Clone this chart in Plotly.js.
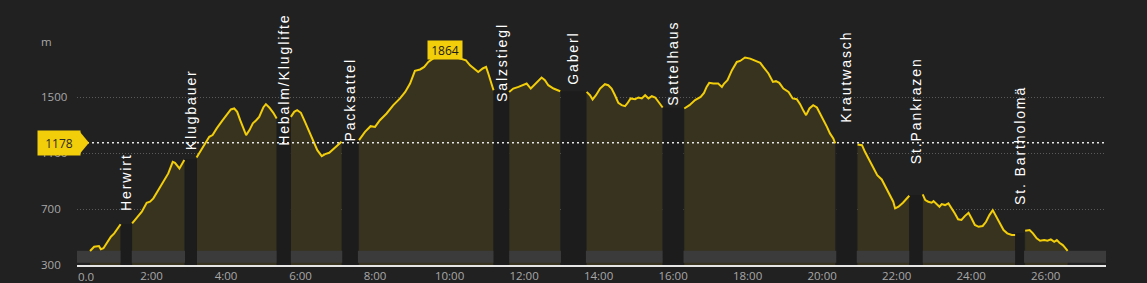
<!DOCTYPE html>
<html><head><meta charset="utf-8">
<script src="https://cdn.plot.ly/plotly-3.0.1.min.js"></script>
<style>html,body{margin:0;padding:0;background:#212121;overflow:hidden;}</style>
</head><body><div id="chart" style="width:1147px;height:283px;"></div>
<script>
// ---- data (hours of travel time, elevation in m); null separates moving segments ----
const timeH = [
 0.35,0.46,0.59,0.64,0.71,0.80,0.91,1.00,1.14,1.17, null,
 1.48,1.60,1.74,1.87,1.96,2.05,2.18,2.32,2.45,2.57,2.63,2.75,2.88, null,
 3.21,3.30,3.44,3.55,3.64,3.75,3.91,4.02,4.13,4.22,4.30,4.38,4.46,4.54,4.63,4.72,4.81,4.89,5.00,5.07,5.16,5.27,5.36, null,
 5.74,5.83,5.91,6.01,6.12,6.24,6.34,6.45,6.57,6.66,6.77,6.90,7.01,7.10, null,
 7.57,7.73,7.88,8.00,8.13,8.31,8.49,8.67,8.81,8.94,9.07,9.21,9.32,9.43,9.60,9.88,10.15,10.33,10.44,10.55,10.68,10.77,10.89,10.98,11.04,11.11,11.18, null,
 11.60,11.71,11.85,11.98,12.07,12.18,12.27,12.38,12.47,12.56,12.65,12.79,12.86,12.97, null,
 13.68,13.77,13.84,13.93,14.04,14.17,14.26,14.35,14.44,14.53,14.62,14.71,14.77,14.86,14.98,15.07,15.16,15.25,15.34,15.43,15.52,15.60,15.72, null,
 16.30,16.44,16.59,16.74,16.83,16.90,16.97,17.08,17.21,17.31,17.37,17.46,17.58,17.71,17.80,17.93,18.07,18.20,18.34,18.42,18.56,18.68,18.76,18.85,18.96,19.10,19.21,19.32,19.41,19.50,19.57,19.66,19.76,19.86,19.95,20.03,20.13,20.21,20.30,20.35, null,
 20.95,21.07,21.15,21.27,21.38,21.48,21.60,21.69,21.81,21.91,21.96,22.05,22.17,22.28,22.34, null,
 22.70,22.77,22.85,22.94,22.99,23.08,23.15,23.21,23.30,23.39,23.48,23.56,23.65,23.74,23.83,23.93,24.01,24.10,24.20,24.31,24.40,24.49,24.58,24.67,24.76,24.87,24.97,25.09,25.18, null,
 25.45,25.57,25.66,25.76,25.85,25.96,26.05,26.14,26.23,26.30,26.37,26.46,26.52,26.59
];
const elevM = [
 400,431,436,413,420,460,503,527,582,592, null,
 599,635,682,746,754,778,838,902,957,1040,1033,993,1053, null,
 1072,1112,1172,1220,1232,1280,1339,1382,1416,1423,1399,1339,1280,1232,1268,1316,1339,1363,1430,1454,1430,1392,1351, null,
 1363,1399,1411,1392,1327,1255,1201,1124,1081,1096,1105,1136,1167,1184, null,
 1196,1255,1296,1291,1339,1387,1447,1495,1542,1602,1693,1703,1721,1757,1790,1800,1792,1781,1769,1733,1703,1685,1710,1721,1674,1614,1554, null,
 1542,1566,1578,1590,1602,1566,1590,1614,1645,1626,1590,1566,1558,1547, null,
 1542,1518,1488,1518,1566,1597,1590,1566,1518,1463,1447,1440,1459,1495,1490,1502,1495,1518,1495,1511,1502,1470,1430, null,
 1423,1447,1483,1506,1535,1578,1607,1602,1602,1578,1602,1626,1698,1757,1764,1789,1781,1764,1750,1721,1674,1614,1619,1607,1566,1542,1495,1490,1454,1406,1375,1423,1447,1430,1387,1339,1291,1244,1208,1172, null,
 1165,1160,1112,1053,993,945,914,866,809,754,706,718,747,778,797, null,
 807,766,754,747,759,735,718,737,730,742,706,671,628,623,651,675,635,587,574,580,610,658,694,646,599,551,527,515,515, null,
 546,551,527,491,474,479,474,484,467,479,460,443,424,402
];
// stops (breaks)
const stopNames = ['Herwirt','Klugbauer','Hebalm/Kluglifte','Packsattel','Salzstiegl','Gaberl','Sattelhaus','Krautwasch','St.Pankrazen','St. Bartholomä'];
const stopStart = [1.17, 2.90, 5.36, 7.12, 11.18, 12.99, 15.72, 20.38, 22.34, 25.18];
const stopEnd   = [1.47, 3.22, 5.74, 7.54, 11.60, 13.66, 16.28, 20.93, 22.70, 25.42];
const stopElev  = [594, 1060, 1361, 1189, 1554, 1547, 1429, 1171, 802, 529];
const avgElevation = 1178;
const peakLabel = '1864';
const xTickVals = [0,2,4,6,8,10,12,14,16,18,20,22,24,26];
const xTickText = ['0.0','2:00','4:00','6:00','8:00','10:00','12:00','14:00','16:00','18:00','20:00','22:00','24:00','26:00'];
const yTickVals = [300,700,1100,1500,1900];
const yTickText = ['300','700','1100','1500','m'];

// ---- layout constants ----
const X_MAX = 27.62;
const BG = '#212121', FILL = '#38331f', BAND = '#1c1c1c', STRIP = '#3b3b3b', YEL = '#f2cd0a';
const stopLabelY = [675, 1105, 1139, 1172, 1454, 1578, 1425, 1303, 1005, 716];
const STRIP_Y = [317, 402];

// split into segments
const segs = []; let cur = {x:[], y:[]};
timeH.forEach((t,i)=>{ if(t===null){ segs.push(cur); cur={x:[],y:[]}; } else { cur.x.push(t); cur.y.push(elevM[i]); } });
segs.push(cur);

const traces = [];
segs.forEach(s=>traces.push({x:s.x, y:s.y, type:'scatter', mode:'lines', line:{width:0, color:FILL}, fill:'tozeroy', fillcolor:FILL, hoverinfo:'skip'}));
traces.push({x:[0,X_MAX,X_MAX,0], y:[STRIP_Y[0],STRIP_Y[0],STRIP_Y[1],STRIP_Y[1]], type:'scatter', mode:'lines', fill:'toself', fillcolor:STRIP, line:{width:0,color:STRIP}, hoverinfo:'skip'});
stopNames.forEach((n,i)=>traces.push({x:[stopStart[i],stopEnd[i],stopEnd[i],stopStart[i]], y:[300,300,stopElev[i],stopElev[i]], type:'scatter', mode:'lines', fill:'toself', fillcolor:BAND, line:{width:0,color:BAND}, hoverinfo:'skip'}));
segs.forEach(s=>traces.push({x:s.x, y:s.y, type:'scatter', mode:'lines', line:{width:2, color:YEL}, hoverinfo:'skip'}));

// peak position
let pk = 0; elevM.forEach((v,i)=>{ if(v!==null && v>elevM[pk]) pk=i; });

const tickFont = {family:'Open Sans, sans-serif', size:11.5, color:'#a8a8a8'};
const annotations = [];
yTickVals.forEach((v,i)=>annotations.push({xref:'paper', x:0, xshift:-38, xanchor:'left', yref:'y', y:v, yanchor:'middle', yshift:1, text:yTickText[i], showarrow:false, font:tickFont}));
annotations.push({xref:'x', x:xTickVals[0], xanchor:'left', xshift:-1, yref:'paper', y:0, yanchor:'top', yshift:-2, text:xTickText[0], showarrow:false, font:tickFont});
stopNames.forEach((n,i)=>annotations.push({xref:'x', x:(stopStart[i]+stopEnd[i])/2, yref:'y', y:stopLabelY[i], xanchor:'center', yanchor:'bottom', textangle:-90, showarrow:false,
  text:'<span style="letter-spacing:1.9px">'+n+'</span>', font:{family:'Liberation Sans, Arial, sans-serif', size:14, color:'#ffffff'}}));
annotations.push({xref:'paper', x:0, xshift:-18, yref:'y', y:avgElevation, yanchor:'middle', xanchor:'center', text:String(avgElevation), showarrow:false,
  bgcolor:YEL, width:42, height:24, borderpad:0, font:{family:'Open Sans, sans-serif', size:12, color:'#2a2a2a'}});
annotations.push({xref:'x', x:timeH[pk], yref:'y', y:elevM[pk], yanchor:'bottom', xanchor:'center', yshift:-4, text:peakLabel, showarrow:false,
  bgcolor:YEL, width:34, height:18, borderpad:0, font:{family:'Open Sans, sans-serif', size:12, color:'#1a1a1a'}});

const layout = {
  width:1147, height:283, paper_bgcolor:BG, plot_bgcolor:BG, showlegend:false,
  margin:{l:77, r:41, t:42, b:18},
  xaxis:{range:[0,X_MAX], tickvals:xTickVals.slice(1), ticktext:xTickText.slice(1), showgrid:false, zeroline:false,
    showline:true, linecolor:'#e6e6e6', linewidth:1.5, ticks:'', tickfont:tickFont, fixedrange:true},
  yaxis:{range:[300,1900], tickvals:yTickVals, showticklabels:false, showgrid:true, gridcolor:'#5a5a5a', griddash:'1px,2px', gridwidth:1,
    zeroline:false, showline:false, ticks:'', fixedrange:true},
  shapes:[
    {type:'line', layer:'above', xref:'paper', x0:0, x1:1, yref:'y', y0:avgElevation, y1:avgElevation, line:{color:'#e8e8e8', width:1.5, dash:'2px,3px'}},
    {type:'path', layer:'above', xref:'paper', xsizemode:'pixel', xanchor:0, yref:'y', ysizemode:'pixel', yanchor:avgElevation,
      path:'M 2 -12 L 12 0 L 2 12 Z', fillcolor:YEL, line:{width:0}}
  ],
  annotations: annotations
};
Plotly.newPlot('chart', traces, layout, {staticPlot:true, displayModeBar:false});
</script></body></html>
